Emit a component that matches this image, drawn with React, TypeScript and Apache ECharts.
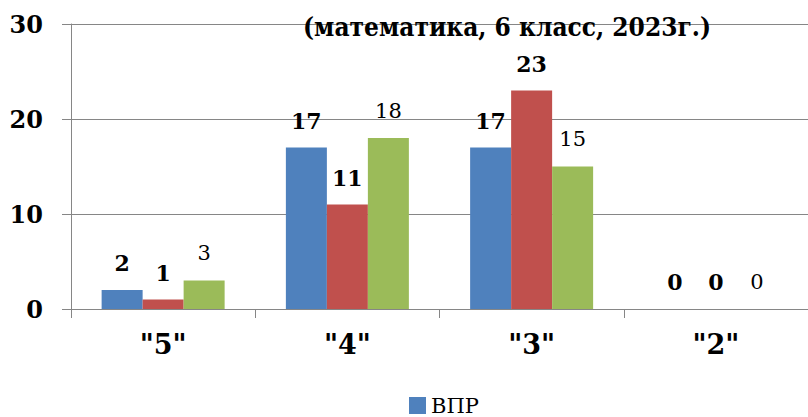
import React, { useEffect, useRef } from "react";
import * as echarts from "echarts";

const categories = ['"5"', '"4"', '"3"', '"2"'];
const vprValues = [2, 17, 17, 0];
const quarterValues = [1, 11, 23, 0];
const yearValues = [3, 18, 15, 0];
const yTicks = { min: 0, max: 30, interval: 10 };
const titleText = "(математика, 6 класс, 2023г.)";

const FONT = "DejaVu Serif";

export default function App() {
  const ref = useRef<HTMLDivElement>(null);
  useEffect(() => {
    document.body.style.margin = "0";
    if (!ref.current) return;
    const chart = echarts.init(ref.current, undefined, { renderer: "svg" });
    const labelBold = {
      show: true,
      position: "top" as const,
      distance: 16,
      fontFamily: FONT,
      fontSize: 22,
      fontWeight: "bold" as const,
      color: "#000",
    };
    chart.setOption({
      animation: false,
      backgroundColor: "#fff",
      graphic: [
        {
          type: "text",
          x: 507,
          y: 27,
          style: {
            text: titleText,
            fontFamily: "DejaVu Serif Condensed",
            fontSize: 26,
            fontWeight: "bold",
            fill: "#000",
            textAlign: "center",
            textVerticalAlign: "middle",
          },
          z: 10,
        },
      ],
      legend: {
        data: ["ВПР"],
        left: 404,
        top: 390,
        itemWidth: 17,
        itemHeight: 17,
        itemGap: 4,
        icon: "rect",
        textStyle: { fontFamily: FONT, fontSize: 21, lineHeight: 17, color: "#000" },
      },
      grid: { left: 71, right: -11, top: 24, bottom: 108, containLabel: false },
      xAxis: {
        type: "category",
        data: categories,
        boundaryGap: true,
        axisLine: { show: true, lineStyle: { color: "#868686", width: 1 } },
        axisTick: { show: true, length: 9, alignWithLabel: false, lineStyle: { color: "#868686" } },
        axisLabel: {
          fontFamily: FONT,
          fontSize: 27,
          fontWeight: "bold",
          color: "#000",
          margin: 22,
        },
      },
      yAxis: {
        type: "value",
        min: yTicks.min,
        max: yTicks.max,
        interval: yTicks.interval,
        axisLine: { show: true, lineStyle: { color: "#868686", width: 1 } },
        axisTick: { show: true, length: 9, lineStyle: { color: "#868686" } },
        splitLine: { show: true, lineStyle: { color: "#868686", width: 1 } },
        axisLabel: {
          fontFamily: FONT,
          fontSize: 24,
          fontWeight: "bold",
          color: "#000",
          margin: 28,
        },
      },
      series: [
        {
          name: "ВПР",
          type: "bar",
          data: vprValues,
          barWidth: 41,
          barGap: "0%",
          itemStyle: { color: "#4F81BD" },
          label: labelBold,
        },
        {
          name: "Четвертные отметки",
          type: "bar",
          data: quarterValues,
          barWidth: 41,
          barGap: "0%",
          itemStyle: { color: "#C0504D" },
          label: labelBold,
        },
        {
          name: "Годовые отметки",
          type: "bar",
          data: yearValues,
          barWidth: 41,
          barGap: "0%",
          itemStyle: { color: "#9BBB59" },
          label: { ...labelBold, fontWeight: "normal" as const, fontSize: 21, distance: 17 },
        },
      ],
    });
    return () => chart.dispose();
  }, []);
  return <div ref={ref} style={{ width: 808, height: 417 }} />;
}
